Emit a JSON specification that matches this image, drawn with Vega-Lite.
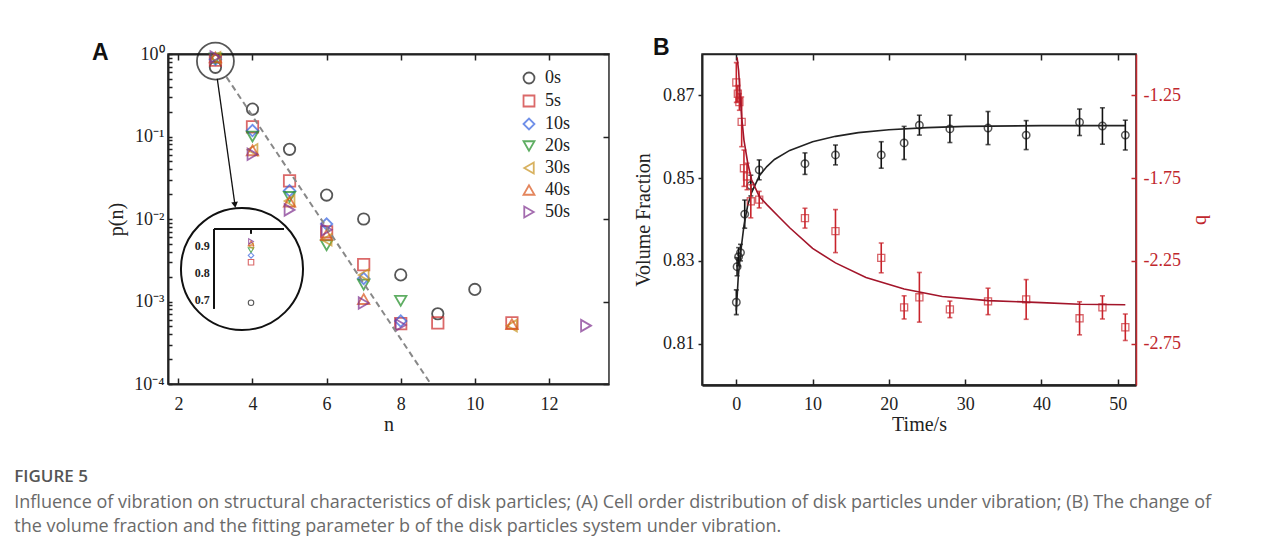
{
  "$schema": "https://vega.github.io/schema/vega-lite/v6.json",
  "background": "white",
  "padding": {"left": 14, "top": 36, "right": 5, "bottom": 5},
  "config": {
    "view": {"stroke": "#222", "strokeWidth": 1.5},
    "axis": {"grid": false, "domainColor": "#222", "domainWidth": 2, "tickColor": "#222", "tickWidth": 1.5,
      "labelFont": "Liberation Serif", "labelFontSize": 18, "labelColor": "#222",
      "titleFont": "Liberation Serif", "titleFontSize": 20, "titleFontWeight": "normal", "titleColor": "#222"},
    "legend": {"padding": 0, "labelFont": "Liberation Serif", "labelFontSize": 18, "labelColor": "#222", "symbolSize": 120, "symbolStrokeWidth": 1.8, "labelOffset": 7, "rowPadding": 3}
  },
  "datasets": {
    "cells": [
      {"series": "0s", "n": 3, "p": 0.69}, {"series": "0s", "n": 4, "p": 0.215}, {"series": "0s", "n": 5, "p": 0.07}, {"series": "0s", "n": 6, "p": 0.0195}, {"series": "0s", "n": 7, "p": 0.01}, {"series": "0s", "n": 8, "p": 0.0021}, {"series": "0s", "n": 9, "p": 0.00071}, {"series": "0s", "n": 10, "p": 0.0014},
      {"series": "5s", "n": 3, "p": 0.84}, {"series": "5s", "n": 4, "p": 0.131}, {"series": "5s", "n": 5, "p": 0.029}, {"series": "5s", "n": 6, "p": 0.007}, {"series": "5s", "n": 7, "p": 0.0028}, {"series": "5s", "n": 8, "p": 0.00054}, {"series": "5s", "n": 9, "p": 0.00055}, {"series": "5s", "n": 11, "p": 0.00055},
      {"series": "10s", "n": 3, "p": 0.865}, {"series": "10s", "n": 4, "p": 0.118}, {"series": "10s", "n": 5, "p": 0.022}, {"series": "10s", "n": 6, "p": 0.0087}, {"series": "10s", "n": 7, "p": 0.0019}, {"series": "10s", "n": 8, "p": 0.00058},
      {"series": "20s", "n": 3, "p": 0.885}, {"series": "20s", "n": 4, "p": 0.1}, {"series": "20s", "n": 5, "p": 0.0185}, {"series": "20s", "n": 6, "p": 0.0048}, {"series": "20s", "n": 7, "p": 0.0016}, {"series": "20s", "n": 8, "p": 0.00102},
      {"series": "30s", "n": 3, "p": 0.9}, {"series": "30s", "n": 4, "p": 0.069}, {"series": "30s", "n": 5, "p": 0.0165}, {"series": "30s", "n": 6, "p": 0.0056}, {"series": "30s", "n": 7, "p": 0.0021}, {"series": "30s", "n": 11, "p": 0.00051},
      {"series": "40s", "n": 3, "p": 0.91}, {"series": "40s", "n": 4, "p": 0.068}, {"series": "40s", "n": 5, "p": 0.0162}, {"series": "40s", "n": 6, "p": 0.0064}, {"series": "40s", "n": 7, "p": 0.00107}, {"series": "40s", "n": 11, "p": 0.00053},
      {"series": "50s", "n": 3, "p": 0.917}, {"series": "50s", "n": 4, "p": 0.061}, {"series": "50s", "n": 5, "p": 0.0129}, {"series": "50s", "n": 6, "p": 0.0074}, {"series": "50s", "n": 7, "p": 0.00096}, {"series": "50s", "n": 8, "p": 0.00052}, {"series": "50s", "n": 13, "p": 0.00051}
    ],
    "guide": [{"n": 3.3, "p": 0.525}, {"n": 8.81, "p": 0.0001}],
    "insetFrame": [
      {"x": 2.471, "y": 0.667, "x2": 2.471, "y2": 0.963},
      {"x": 2.471, "y": 0.963, "x2": 3.471, "y2": 0.963},
      {"x": 3.0, "y": 0.963, "x2": 3.0, "y2": 0.945}
    ],
    "insetLabels": [{"x": 2.41, "y": 0.9, "label": "0.9"}, {"x": 2.41, "y": 0.8, "label": "0.8"}, {"x": 2.41, "y": 0.7, "label": "0.7"}],
    "vf": [
      {"t": 0, "vf": 0.82, "err": 0.003}, {"t": 0.1, "vf": 0.8286, "err": 0.0022}, {"t": 0.3, "vf": 0.831, "err": 0.0022}, {"t": 0.55, "vf": 0.832, "err": 0.002},
      {"t": 1.1, "vf": 0.8413, "err": 0.0034}, {"t": 1.9, "vf": 0.8482, "err": 0.0025}, {"t": 3, "vf": 0.852, "err": 0.0024}, {"t": 9, "vf": 0.8535, "err": 0.0026},
      {"t": 13, "vf": 0.8556, "err": 0.0024}, {"t": 19, "vf": 0.8556, "err": 0.0032}, {"t": 22, "vf": 0.8585, "err": 0.004}, {"t": 24, "vf": 0.8628, "err": 0.0024},
      {"t": 28, "vf": 0.8619, "err": 0.0033}, {"t": 33, "vf": 0.8621, "err": 0.004}, {"t": 38, "vf": 0.8604, "err": 0.0035}, {"t": 45, "vf": 0.8635, "err": 0.0032},
      {"t": 48, "vf": 0.8626, "err": 0.0044}, {"t": 51, "vf": 0.8604, "err": 0.0036}
    ],
    "vffit": [
      {"t": 0, "vf": 0.818}, {"t": 0.25, "vf": 0.826}, {"t": 0.5, "vf": 0.831}, {"t": 1, "vf": 0.8385}, {"t": 1.5, "vf": 0.8435}, {"t": 2, "vf": 0.8465},
      {"t": 3, "vf": 0.8505}, {"t": 4, "vf": 0.8528}, {"t": 5, "vf": 0.8545}, {"t": 7, "vf": 0.8567}, {"t": 10, "vf": 0.8588}, {"t": 13, "vf": 0.8601},
      {"t": 16, "vf": 0.861}, {"t": 20, "vf": 0.8617}, {"t": 25, "vf": 0.8622}, {"t": 30, "vf": 0.8625}, {"t": 40, "vf": 0.8627}, {"t": 51, "vf": 0.8627}
    ],
    "bvals": [
      {"t": 0, "b": -1.172, "err": 0.12}, {"t": 0.2, "b": -1.24, "err": 0.05}, {"t": 0.4, "b": -1.29, "err": 0.05}, {"t": 0.7, "b": -1.41, "err": 0.15},
      {"t": 1.0, "b": -1.69, "err": 0.11}, {"t": 1.4, "b": -1.74, "err": 0.08}, {"t": 1.9, "b": -1.89, "err": 0.1}, {"t": 3.0, "b": -1.88, "err": 0.05},
      {"t": 9, "b": -1.992, "err": 0.06}, {"t": 13, "b": -2.07, "err": 0.13}, {"t": 19, "b": -2.232, "err": 0.09}, {"t": 22, "b": -2.531, "err": 0.07},
      {"t": 24, "b": -2.47, "err": 0.15}, {"t": 28, "b": -2.543, "err": 0.05}, {"t": 33, "b": -2.495, "err": 0.08}, {"t": 38, "b": -2.483, "err": 0.12},
      {"t": 45, "b": -2.597, "err": 0.1}, {"t": 48, "b": -2.531, "err": 0.07}, {"t": 51, "b": -2.651, "err": 0.08}
    ],
    "bfit": [
      {"t": 0.1, "b": -1.02}, {"t": 0.3, "b": -1.1}, {"t": 0.5, "b": -1.25}, {"t": 0.7, "b": -1.38}, {"t": 1, "b": -1.52}, {"t": 1.5, "b": -1.66},
      {"t": 2, "b": -1.76}, {"t": 3, "b": -1.86}, {"t": 4, "b": -1.91}, {"t": 5.5, "b": -1.98}, {"t": 7, "b": -2.05}, {"t": 10, "b": -2.175},
      {"t": 13, "b": -2.262}, {"t": 17, "b": -2.35}, {"t": 22, "b": -2.42}, {"t": 27, "b": -2.465}, {"t": 33, "b": -2.49}, {"t": 40, "b": -2.502},
      {"t": 45, "b": -2.512}, {"t": 51, "b": -2.515}
    ]
  },
  "title": {
    "text": "FIGURE 5",
    "subtitle": ["Influence of vibration on structural characteristics of disk particles; (A) Cell order distribution of disk particles under vibration; (B) The change of", "the volume fraction and the fitting parameter b of the disk particles system under vibration."],
    "orient": "bottom", "anchor": "start", "frame": "bounds", "dx": -77, "offset": 34,
    "font": "Open Sans", "fontSize": 17, "fontWeight": 600, "color": "#555",
    "subtitleFont": "Open Sans", "subtitleFontSize": 18, "subtitleColor": "#6a6a6a", "subtitlePadding": 8, "subtitleLineHeight": 24
  },
  "spacing": 21,
  "resolve": {"scale": {"color": "independent", "shape": "independent"}, "legend": {"color": "independent", "shape": "independent"}},
  "hconcat": [
    {
      "width": 441, "height": 330,
      "title": {"text": "A", "anchor": "start", "frame": "group", "dx": -76, "offset": -26, "font": "Liberation Sans", "fontSize": 23, "fontWeight": "bold", "color": "#111"},
      "layer": [
        {
          "layer": [
            {
              "data": {"name": "cells"},
              "mark": {"type": "point", "filled": false, "strokeWidth": 1.8, "size": 130},
              "encoding": {
                "x": {"field": "n", "type": "quantitative", "scale": {"domain": [1.72, 13.62], "nice": false, "zero": false},
                  "axis": {"values": [2, 4, 6, 8, 10, 12], "title": "n", "tickSize": -6, "labelPadding": 17, "titlePadding": 1}},
                "y": {"field": "p", "type": "quantitative", "scale": {"type": "log", "domain": [0.0001, 1], "nice": false},
                  "axis": {"values": [0.0001, 0.0002, 0.0003, 0.0004, 0.0005, 0.0006, 0.0007, 0.0008, 0.0009, 0.001, 0.002, 0.003, 0.004, 0.005, 0.006, 0.007, 0.008, 0.009, 0.01, 0.02, 0.03, 0.04, 0.05, 0.06, 0.07, 0.08, 0.09, 0.1, 0.2, 0.3, 0.4, 0.5, 0.6, 0.7, 0.8, 0.9, 1],
                    "labelExpr": "datum.value == 1 ? '10⁰' : datum.value == 0.1 ? '10⁻¹' : datum.value == 0.01 ? '10⁻²' : datum.value == 0.001 ? '10⁻³' : datum.value == 0.0001 ? '10⁻⁴' : ''",
                    "title": "p(n)", "tickSize": -4, "labelPadding": 8, "titlePadding": 7}},
                "color": {"field": "series", "type": "nominal",
                  "scale": {"domain": ["0s", "5s", "10s", "20s", "30s", "40s", "50s"], "range": ["#111111", "#CC2A2A", "#3462E0", "#1C8C22", "#C8921E", "#D95319", "#7E2F8E"]},
                  "legend": {"title": null, "orient": "none", "legendX": 352, "legendY": 15, "labelFont": "Liberation Serif", "labelFontSize": 18}},
                "shape": {"field": "series", "type": "nominal",
                  "scale": {"domain": ["0s", "5s", "10s", "20s", "30s", "40s", "50s"], "range": ["circle", "square", "diamond", "triangle-down", "triangle-left", "triangle-up", "triangle-right"]},
                  "legend": {"title": null, "orient": "none", "legendX": 352, "legendY": 15, "labelFont": "Liberation Serif", "labelFontSize": 18}}
              }
            },
            {
              "data": {"name": "guide"},
              "mark": {"type": "line", "strokeDash": [6, 4], "color": "#888", "strokeWidth": 2},
              "encoding": {
                "x": {"field": "n", "type": "quantitative", "scale": {"domain": [1.72, 13.62], "nice": false, "zero": false},
                  "axis": {"orient": "top", "values": [2, 4, 6, 8, 10, 12], "labels": false, "title": null, "tickSize": -6}},
                "y": {"field": "p", "type": "quantitative", "scale": {"type": "log", "domain": [0.0001, 1], "nice": false},
                  "axis": {"orient": "right", "values": [0.0001, 0.001, 0.01, 0.1, 1], "labels": false, "title": null, "tickSize": -6, "domainWidth": 1, "domainColor": "#666"}}
              }
            },
            {
              "data": {"values": [{"n": 3.0, "p": 0.82}]},
              "mark": {"type": "point", "filled": false, "shape": "circle", "size": 1369, "color": "#111", "strokeWidth": 1.8},
              "encoding": {
                "x": {"field": "n", "type": "quantitative", "scale": {"domain": [1.72, 13.62], "nice": false, "zero": false}, "axis": null},
                "y": {"field": "p", "type": "quantitative", "scale": {"type": "log", "domain": [0.0001, 1], "nice": false}, "axis": null}
              }
            },
            {
              "data": {"values": [{"n": 3.05, "p": 0.5, "n2": 3.527, "p2": 0.0148}]},
              "mark": {"type": "rule", "color": "#111", "strokeWidth": 1.3},
              "encoding": {
                "x": {"field": "n", "type": "quantitative", "scale": {"domain": [1.72, 13.62], "nice": false, "zero": false}, "axis": null},
                "y": {"field": "p", "type": "quantitative", "scale": {"type": "log", "domain": [0.0001, 1], "nice": false}, "axis": null},
                "x2": {"field": "n2"}, "y2": {"field": "p2"}
              }
            },
            {
              "data": {"values": [{"n": 3.527, "p": 0.0148}]},
              "mark": {"type": "point", "filled": true, "shape": "triangle-down", "size": 45, "color": "#111", "angle": 352, "opacity": 1},
              "encoding": {
                "x": {"field": "n", "type": "quantitative", "scale": {"domain": [1.72, 13.62], "nice": false, "zero": false}, "axis": null},
                "y": {"field": "p", "type": "quantitative", "scale": {"type": "log", "domain": [0.0001, 1], "nice": false}, "axis": null}
              }
            }
          ],
          "resolve": {"axis": {"x": "independent", "y": "independent"}}
        },
        {
          "layer": [
            {
              "data": {"values": [{"x": 2.871, "y": 0.815}]},
              "mark": {"type": "point", "shape": "circle", "size": 14900, "filled": true, "fill": "white", "stroke": "#111", "strokeWidth": 2, "opacity": 1},
              "encoding": {
                "x": {"field": "x", "type": "quantitative", "scale": {"domain": [1.814, 8.114], "nice": false, "zero": false}, "axis": null},
                "y": {"field": "y", "type": "quantitative", "scale": {"domain": [0.389, 1.611], "nice": false, "zero": false}, "axis": null}
              }
            },
            {
              "data": {"name": "insetFrame"},
              "mark": {"type": "rule", "color": "#111", "strokeWidth": 2},
              "encoding": {
                "x": {"field": "x", "type": "quantitative", "scale": {"domain": [1.814, 8.114], "nice": false, "zero": false}, "axis": null},
                "y": {"field": "y", "type": "quantitative", "scale": {"domain": [0.389, 1.611], "nice": false, "zero": false}, "axis": null},
                "x2": {"field": "x2"}, "y2": {"field": "y2"}
              }
            },
            {
              "data": {"name": "insetLabels"},
              "mark": {"type": "text", "align": "right", "baseline": "middle", "font": "Liberation Serif", "fontWeight": "bold", "fontSize": 12, "color": "#222"},
              "encoding": {
                "x": {"field": "x", "type": "quantitative", "scale": {"domain": [1.814, 8.114], "nice": false, "zero": false}, "axis": null},
                "y": {"field": "y", "type": "quantitative", "scale": {"domain": [0.389, 1.611], "nice": false, "zero": false}, "axis": null},
                "text": {"field": "label"}
              }
            },
            {
              "data": {"name": "cells"},
              "transform": [{"filter": "datum.n == 3"}],
              "mark": {"type": "point", "filled": false, "strokeWidth": 1.1, "size": 30},
              "encoding": {
                "x": {"field": "n", "type": "quantitative", "scale": {"domain": [1.814, 8.114], "nice": false, "zero": false}, "axis": null},
                "y": {"field": "p", "type": "quantitative", "scale": {"domain": [0.389, 1.611], "nice": false, "zero": false}, "axis": null},
                "color": {"field": "series", "type": "nominal", "legend": null},
                "shape": {"field": "series", "type": "nominal", "legend": null}
              }
            }
          ]
        }
      ],
      "resolve": {"scale": {"x": "independent", "y": "independent"}}
    },
    {
      "width": 434, "height": 331,
      "title": {"text": "B", "anchor": "start", "frame": "group", "dx": -49, "offset": -7, "font": "Liberation Sans", "fontSize": 23, "fontWeight": "bold", "color": "#111"},
      "layer": [
        {
          "encoding": {
            "x": {"field": "t", "type": "quantitative", "scale": {"domain": [-4.5, 52.4], "nice": false, "zero": false},
              "axis": {"values": [0, 10, 20, 30, 40, 50], "title": "Time/s", "tickSize": -6, "labelPadding": 16, "titlePadding": 1, "domainWidth": 2.5}},
            "y": {"field": "vf", "type": "quantitative", "scale": {"domain": [0.8, 0.88], "nice": false, "zero": false},
              "axis": {"values": [0.81, 0.83, 0.85, 0.87], "format": ".2f", "title": "Volume Fraction", "tickSize": 4, "labelPadding": 4, "titlePadding": 9}}
          },
          "layer": [
            {"data": {"name": "vf"}, "mark": {"type": "errorbar", "ticks": true, "color": "#111", "thickness": 1.6}, "encoding": {"yError": {"field": "err"}}},
            {"data": {"name": "vf"}, "mark": {"type": "point", "shape": "circle", "filled": false, "color": "#111", "size": 55, "strokeWidth": 1.5}},
            {"data": {"name": "vffit"}, "mark": {"type": "line", "color": "#222", "strokeWidth": 1.6}}
          ]
        },
        {
          "encoding": {
            "x": {"field": "t", "type": "quantitative", "scale": {"domain": [-4.5, 52.4], "nice": false, "zero": false},
              "axis": {"orient": "top", "values": [0, 10, 20, 30, 40, 50], "labels": false, "title": null, "tickSize": -6, "domainWidth": 1.5}},
            "y": {"field": "b", "type": "quantitative", "scale": {"domain": [-3, -1], "nice": false, "zero": false},
              "axis": {"orient": "right", "values": [-1.25, -1.75, -2.25, -2.75], "labelExpr": "replace(format(datum.value, '.2f'), '−', '-')", "title": "b",
                "tickSize": -5, "labelPadding": 12, "titlePadding": 11, "domainColor": "#C0272D", "domainWidth": 1.5, "tickColor": "#C0272D", "labelColor": "#C0272D", "titleColor": "#C0272D"}}
          },
          "layer": [
            {"data": {"name": "bvals"}, "mark": {"type": "errorbar", "ticks": true, "color": "#C8232B", "thickness": 1.6}, "encoding": {"yError": {"field": "err"}}},
            {"data": {"name": "bvals"}, "mark": {"type": "point", "shape": "square", "filled": false, "color": "#C8232B", "size": 50, "strokeWidth": 1.3}},
            {"data": {"name": "bfit"}, "mark": {"type": "line", "color": "#A3152A", "strokeWidth": 1.6}}
          ]
        }
      ],
      "resolve": {"scale": {"y": "independent"}, "axis": {"x": "independent"}}
    }
  ]
}
